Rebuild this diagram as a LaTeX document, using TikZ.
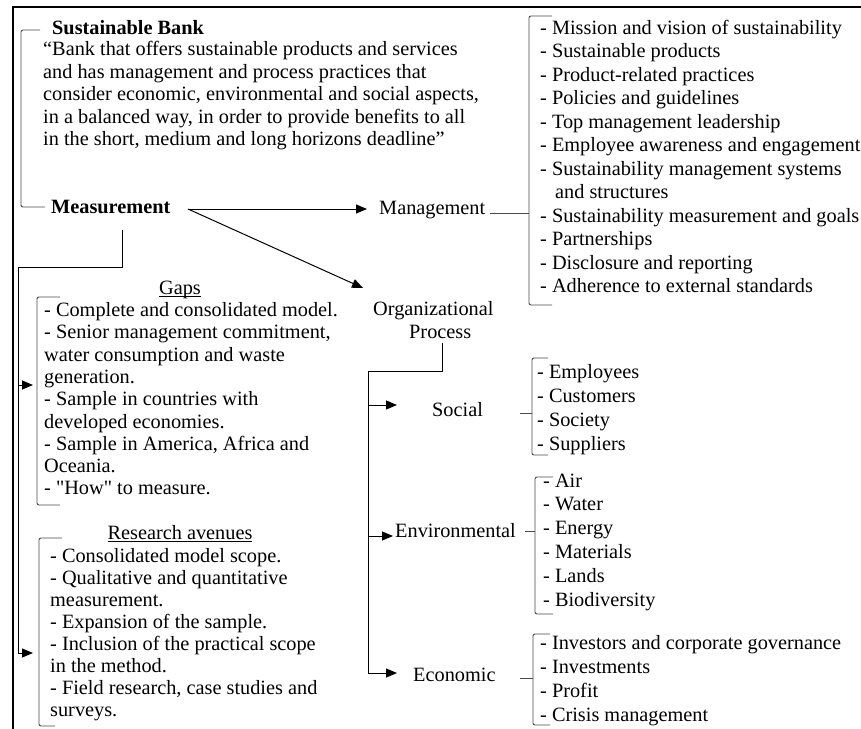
\documentclass[tikz,border=0pt]{standalone}
\usepackage{fontspec}
\setmainfont{Liberation Serif}
\usetikzlibrary{arrows.meta}
\newcommand\fsz[1]{\fontsize{20.3}{#1}\selectfont}
\newcommand\myul[1]{\setbox0\hbox{#1}\rlap{\rule[-2.6pt]{\wd0}{0.9pt}}\box0}
\begin{document}
\begin{tikzpicture}[x=1pt,y=-1pt,
  txt/.style={inner sep=0pt, anchor=base west, align=left},
  ctr/.style={inner sep=0pt, anchor=base},
  conn/.style={line width=1pt, draw=black},
  brk/.style={line width=0.9pt, draw=black!70, rounded corners=2pt},
  arr/.style={conn, -{Triangle[length=11pt,width=9pt]}},
  frame/.style={line width=2.4pt, draw=black}]
\useasboundingbox (0,0) rectangle (861,728);
\fill[white] (0,0) rectangle (861,728);
\draw[frame] (13,760) -- (13,7) -- (900,7);

% ---------- left column (multi-line nodes: anchored at the last baseline) ----------
\node[txt, font=\fsz{23.5}\bfseries] (sb) at (52,34) {Sustainable Bank};
\node[txt, font=\fsz{22.5}] (quote) at (43,145.5) {“Bank that offers sustainable products and services\\
and has management and process practices that\\
consider economic, environmental and social aspects,\\
in a balanced way, in order to provide benefits to all\\
in the short, medium and long horizons deadline”};
\node[txt, font=\fsz{23.5}\bfseries] (meas) at (51,213) {Measurement};

\node[ctr, font=\fsz{23.5}] (gapst) at (180,294) {\myul{Gaps}};
\node[txt, font=\fsz{22.3}] (gaps) at (44,494.9) {- Complete and consolidated model.\\
- Senior management commitment,\\
water consumption and waste\\
generation.\\
- Sample in countries with\\
developed economies.\\
- Sample in America, Africa and\\
Oceania.\\
- \textquotedbl How\textquotedbl{} to measure.};

\node[ctr, font=\fsz{23.5}] (rat) at (180,539) {\myul{Research avenues}};
\node[txt, font=\fsz{22.1}] (ra) at (50,716.7) {- Consolidated model scope.\\
- Qualitative and quantitative\\
measurement.\\
- Expansion of the sample.\\
- Inclusion of the practical scope\\
in the method.\\
- Field research, case studies and\\
surveys.};

% ---------- middle ----------
\node[txt, font=\fsz{23.5}] (mgmt) at (379,214) {Management};
\node[txt, font=\fsz{23.5}] (org1) at (373,315) {Organizational};
\node[txt, font=\fsz{23.5}] (org2) at (409,338) {Process};
\node[txt, font=\fsz{23.5}] (soc) at (432,416) {Social};
\node[txt, font=\fsz{23.5}] (env) at (395,537) {Environmental};
\node[txt, font=\fsz{23.5}] (eco) at (413,681) {Economic};

% ---------- right lists ----------
\node[txt, font=\fsz{23.5}] (ml) at (540,292.8) {- Mission and vision of sustainability\\
- Sustainable products\\
- Product-related practices\\
- Policies and guidelines\\
- Top management leadership\\
- Employee awareness and engagement\\
- Sustainability management systems\\
\hspace{15pt}and structures\\
- Sustainability measurement and goals\\
- Partnerships\\
- Disclosure and reporting\\
- Adherence to external standards};
\node[txt, font=\fsz{24}] (sl) at (537,450) {- Employees\\- Customers\\- Society\\- Suppliers};
\node[txt, font=\fsz{23.8}] (el) at (543,606) {- Air\\- Water\\- Energy\\- Materials\\- Lands\\- Biodiversity};
\node[txt, font=\fsz{24}] (cl) at (540,721) {- Investors and corporate governance\\- Investments\\- Profit\\- Crisis management};

% ---------- connector points ----------
\coordinate (sbA) at (40,30);
\coordinate (sbB) at (21,30);
\coordinate (sbC) at (21,207);
\coordinate (sbD) at (45,207);
\coordinate (mOut) at (188,209);
\coordinate (mgIn) at (367,209);
\coordinate (orgIn) at (363,288);
\coordinate (mDown) at (122,230);
\coordinate (mBend) at (122,267);
\coordinate (lBus) at (18,267);
\coordinate (gIn) at (33,385);
\coordinate (gBus) at (18,385);
\coordinate (rBus) at (18,653);
\coordinate (rIn) at (33,653);
\coordinate (oDown) at (442,343);
\coordinate (oBend) at (442,371);
\coordinate (oBus) at (368,371);
\coordinate (sBus) at (368,405);
\coordinate (sIn) at (397,405);
\coordinate (eBus) at (368,536);
\coordinate (eIn) at (393,536);
\coordinate (cBus) at (368,673);
\coordinate (cIn) at (397,673);

% brackets
\draw[brk] (sbA) -- (sbB) -- (sbC) -- (sbD);
\draw[brk] (552,16) -- (529,16) -- (529,305) -- (552,305);
\draw[brk] (60,297) -- (37,297) -- (37,505) -- (60,505);
\draw[brk] (62,538) -- (39,538) -- (39,726) -- (55,726);
\draw[brk] (548,358) -- (532,358) -- (532,455) -- (548,455);
\draw[brk] (553,477) -- (535,477) -- (535,614) -- (553,614);
\draw[brk] (550,634) -- (533,634) -- (533,725) -- (550,725);
% bracket stems
\draw[brk] (490,213) -- (529,213);
\draw[brk] (520,413) -- (532,413);
\draw[brk] (525,531) -- (535,531);
\draw[brk] (520,678) -- (533,678);

% arrows
\draw[arr] (mOut) -- (mgIn);
\draw[arr] (mOut) -- (orgIn);
\draw[arr] (mDown) -- (mBend) -- (lBus) -- (rBus) -- (rIn);
\draw[arr] (gBus) -- (gIn);
\draw[arr] (oDown) -- (oBend) -- (oBus) -- (cBus) -- (cIn);
\draw[arr] (sBus) -- (sIn);
\draw[arr] (eBus) -- (eIn);
\end{tikzpicture}
\end{document}
